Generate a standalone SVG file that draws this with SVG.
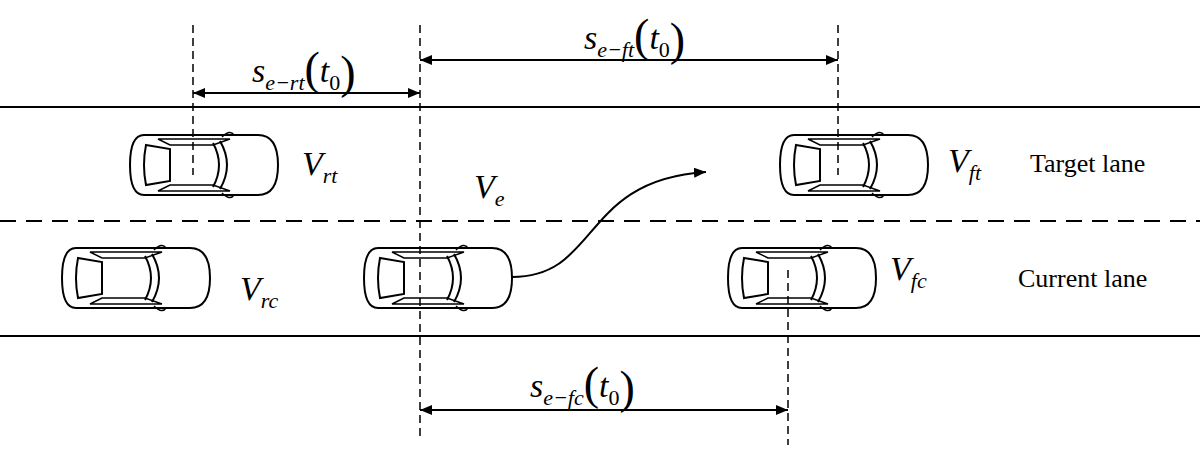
<svg xmlns="http://www.w3.org/2000/svg" width="1200" height="453" viewBox="0 0 1200 453">
<style>
.l{stroke:#000;stroke-width:2;fill:none}
.d{stroke:#000;stroke-width:1.5;fill:none;stroke-dasharray:8,5}
.t{font-family:"Liberation Serif",serif;font-style:italic;font-size:34px}
.s{font-size:22px}
.p{font-style:normal;font-size:46px}
.n{font-family:"Liberation Serif",serif;font-size:26px}
</style>
<defs>
<marker id="a" markerWidth="12" markerHeight="10" refX="12" refY="5" orient="auto-start-reverse" markerUnits="userSpaceOnUse"><path d="M0,0L12,5L0,10Z"/></marker>
<g id="car" fill="none" stroke="#000" stroke-width="2">
<path d="M14,0H128Q148,0 148,30Q148,60 128,60H14Q0,60 0,30Q0,0 14,0Z" fill="#fff"/>
<path d="M16,10L40,14L40,46L16,50Q12,30 16,10Z"/>
<path d="M83,8Q95,30 83,52"/>
<path d="M90,6Q104,30 90,54"/>
<path d="M28,4L100,4L83,10L40,10Z" stroke-width="1.5"/>
<path d="M28,56L100,56L83,50L40,50Z" stroke-width="1.5"/>
<path d="M92,2Q100,-6 104,0" stroke-width="1.5"/>
<path d="M92,58Q100,66 104,60" stroke-width="1.5"/>
</g>
</defs>
<g id="road">
<line class="l" x1="0" y1="107" x2="1200" y2="107"/>
<line class="l" x1="0" y1="221" x2="1200" y2="221" stroke-dasharray="16,10"/>
<line class="l" x1="0" y1="336" x2="1200" y2="336"/>
</g>
<g id="cars">
<use href="#car" x="130" y="135"/>
<use href="#car" x="780" y="135"/>
<use href="#car" x="62" y="248"/>
<use href="#car" x="364" y="248"/>
<use href="#car" x="728" y="248"/>
</g>
<g id="connectors">
<line class="d" x1="193" y1="25" x2="193" y2="175"/>
<line class="d" x1="420" y1="25" x2="420" y2="440"/>
<line class="d" x1="838" y1="25" x2="838" y2="175"/>
<line class="d" x1="788" y1="270" x2="788" y2="445"/>
<line class="l" x1="193" y1="93" x2="420" y2="93" marker-start="url(#a)" marker-end="url(#a)"/>
<line class="l" x1="420" y1="60" x2="838" y2="60" marker-start="url(#a)" marker-end="url(#a)"/>
<line class="l" x1="420" y1="410" x2="788" y2="410" marker-start="url(#a)" marker-end="url(#a)"/>
<path class="l" d="M512,277C600,277 580,180 706,172" marker-end="url(#a)"/>
</g>
<g id="labels">
<text class="t" x="252" y="82">s<tspan class="s" dy="8">e−rt</tspan><tspan class="p" dy="-6">(</tspan><tspan dy="-2">t</tspan><tspan class="s" dy="8" font-style="normal">0</tspan><tspan class="p" dy="-2">)</tspan></text>
<text class="t" x="584" y="49">s<tspan class="s" dy="8">e−ft</tspan><tspan class="p" dy="-6">(</tspan><tspan dy="-2">t</tspan><tspan class="s" dy="8" font-style="normal">0</tspan><tspan class="p" dy="-2">)</tspan></text>
<text class="t" x="530" y="397">s<tspan class="s" dy="8">e−fc</tspan><tspan class="p" dy="-6">(</tspan><tspan dy="-2">t</tspan><tspan class="s" dy="8" font-style="normal">0</tspan><tspan class="p" dy="-2">)</tspan></text>
<text class="t" x="302" y="175">V<tspan class="s" dy="8">rt</tspan></text>
<text class="t" x="948" y="172">V<tspan class="s" dy="8">ft</tspan></text>
<text class="t" x="474" y="198">V<tspan class="s" dy="8">e</tspan></text>
<text class="t" x="240" y="300">V<tspan class="s" dy="8">rc</tspan></text>
<text class="t" x="890" y="280">V<tspan class="s" dy="8">fc</tspan></text>
<text class="n" x="1030" y="172">Target lane</text>
<text class="n" x="1018" y="287">Current lane</text>
</g>
</svg>
